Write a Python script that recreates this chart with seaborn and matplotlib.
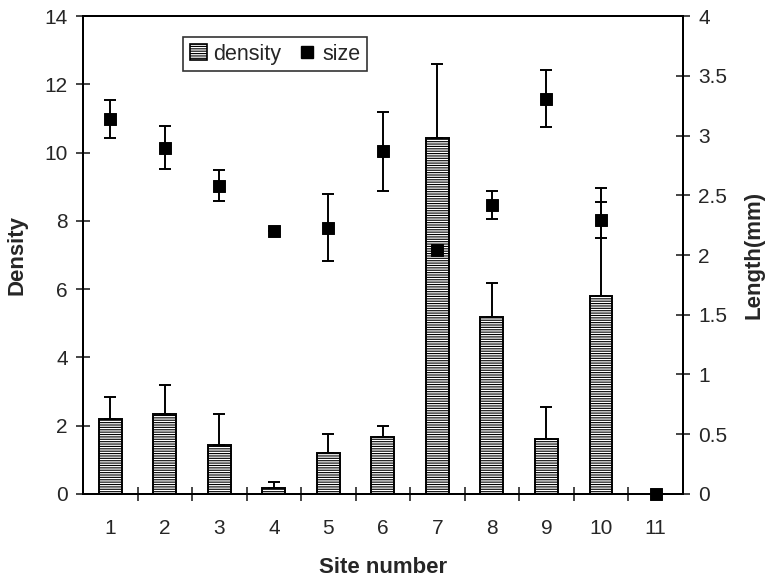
import numpy as np
import pandas as pd
import matplotlib
matplotlib.use("Agg")
import matplotlib.pyplot as plt
from matplotlib.ticker import MultipleLocator, FixedLocator, FormatStrFormatter
from matplotlib.patches import Patch
from matplotlib.lines import Line2D
import seaborn as sns

# values
sites = [1, 2, 3, 4, 5, 6, 7, 8, 9, 10, 11]
density = [2.20, 2.33, 1.43, 0.18, 1.20, 1.67, 10.42, 5.17, 1.62, 5.79, 0.0]
density_err = [0.65, 0.87, 0.90, 0.16, 0.57, 0.33, 2.17, 1.00, 0.93, 3.18, 0.0]
size = [3.14, 2.90, 2.58, 2.20, 2.23, 2.87, 2.04, 2.42, 3.31, 2.29, 0.0]
size_err = [0.16, 0.18, 0.13, 0.0, 0.28, 0.33, 0.0, 0.12, 0.24, 0.15, 0.0]

sns.set_style("white")
plt.rcParams["font.family"] = ["Liberation Sans", "DejaVu Sans"]
plt.rcParams["hatch.linewidth"] = 0.8

df = pd.DataFrame({"site": sites, "density": density, "size": size})

fig = plt.figure(figsize=(7.65, 5.77), dpi=100)
ax = fig.add_axes([0.1085, 0.144, 0.784, 0.828])

sns.barplot(data=df, x="site", y="density", native_scale=True, width=0.42,
            color="white", edgecolor="black", linewidth=1.4, hatch="-------",
            errorbar=None, ax=ax)
ax.errorbar(df["site"], df["density"], yerr=[np.zeros(len(sites)), density_err],
            fmt="none", ecolor="black", elinewidth=1.4, capsize=4.5, capthick=1.4)

ax2 = ax.twinx()
ax2.errorbar(df["site"], df["size"], yerr=size_err, fmt="none", ecolor="black",
             elinewidth=1.4, capsize=4.5, capthick=1.4)
sns.scatterplot(data=df, x="site", y="size", marker="s", color="black", s=70,
                edgecolor="black", ax=ax2, clip_on=False, zorder=5)

ax.set_xlim(0.5, 11.5)
ax.set_ylim(0, 14)
ax2.set_ylim(0, 4)
ax.yaxis.set_major_locator(MultipleLocator(2))
ax2.yaxis.set_major_locator(MultipleLocator(0.5))
ax2.yaxis.set_major_formatter(FormatStrFormatter("%g"))

ax.set_xticks(sites)
ax.set_xticklabels([str(s) for s in sites])
ax.xaxis.set_minor_locator(FixedLocator(np.arange(1.5, 11, 1)))
ax.tick_params(axis="x", which="major", length=0, pad=18, labelsize=15)
ax.tick_params(axis="x", which="minor", direction="inout", length=10, width=1.2, bottom=True)
ax.tick_params(axis="y", direction="inout", length=10, width=1.2, labelsize=15, left=True, pad=6)
ax2.tick_params(axis="y", direction="inout", length=10, width=1.2, labelsize=15, right=True, pad=6)

ax.set_xlabel("Site number", fontsize=16, fontweight="bold", va="center")
ax.set_ylabel("Density", fontsize=16, fontweight="bold", va="center")
ax2.set_ylabel("Length(mm)", fontsize=16, fontweight="bold", va="center")
ax.xaxis.set_label_coords(0.5, -0.153)
ax.yaxis.set_label_coords(-0.11, 0.5)
ax2.yaxis.set_label_coords(1.118, 0.5)

for a in (ax, ax2):
    for sp in a.spines.values():
        sp.set_color("black")
        sp.set_linewidth(1.4)

handles = [Patch(facecolor="white", edgecolor="black", hatch="-------", linewidth=1.2),
           Line2D([], [], marker="s", color="black", linestyle="none", markersize=8)]
leg = ax2.legend(handles, ["density", "size"], ncol=2, loc="upper left",
                 bbox_to_anchor=(0.167, 0.956), fontsize=15.5, frameon=True,
                 fancybox=False, edgecolor="black", handlelength=0.8,
                 handleheight=0.8, handletextpad=0.3, columnspacing=0.8,
                 borderpad=0.3, borderaxespad=0)
leg.get_frame().set_linewidth(1.2)

fig.savefig("out.png", dpi=100)
